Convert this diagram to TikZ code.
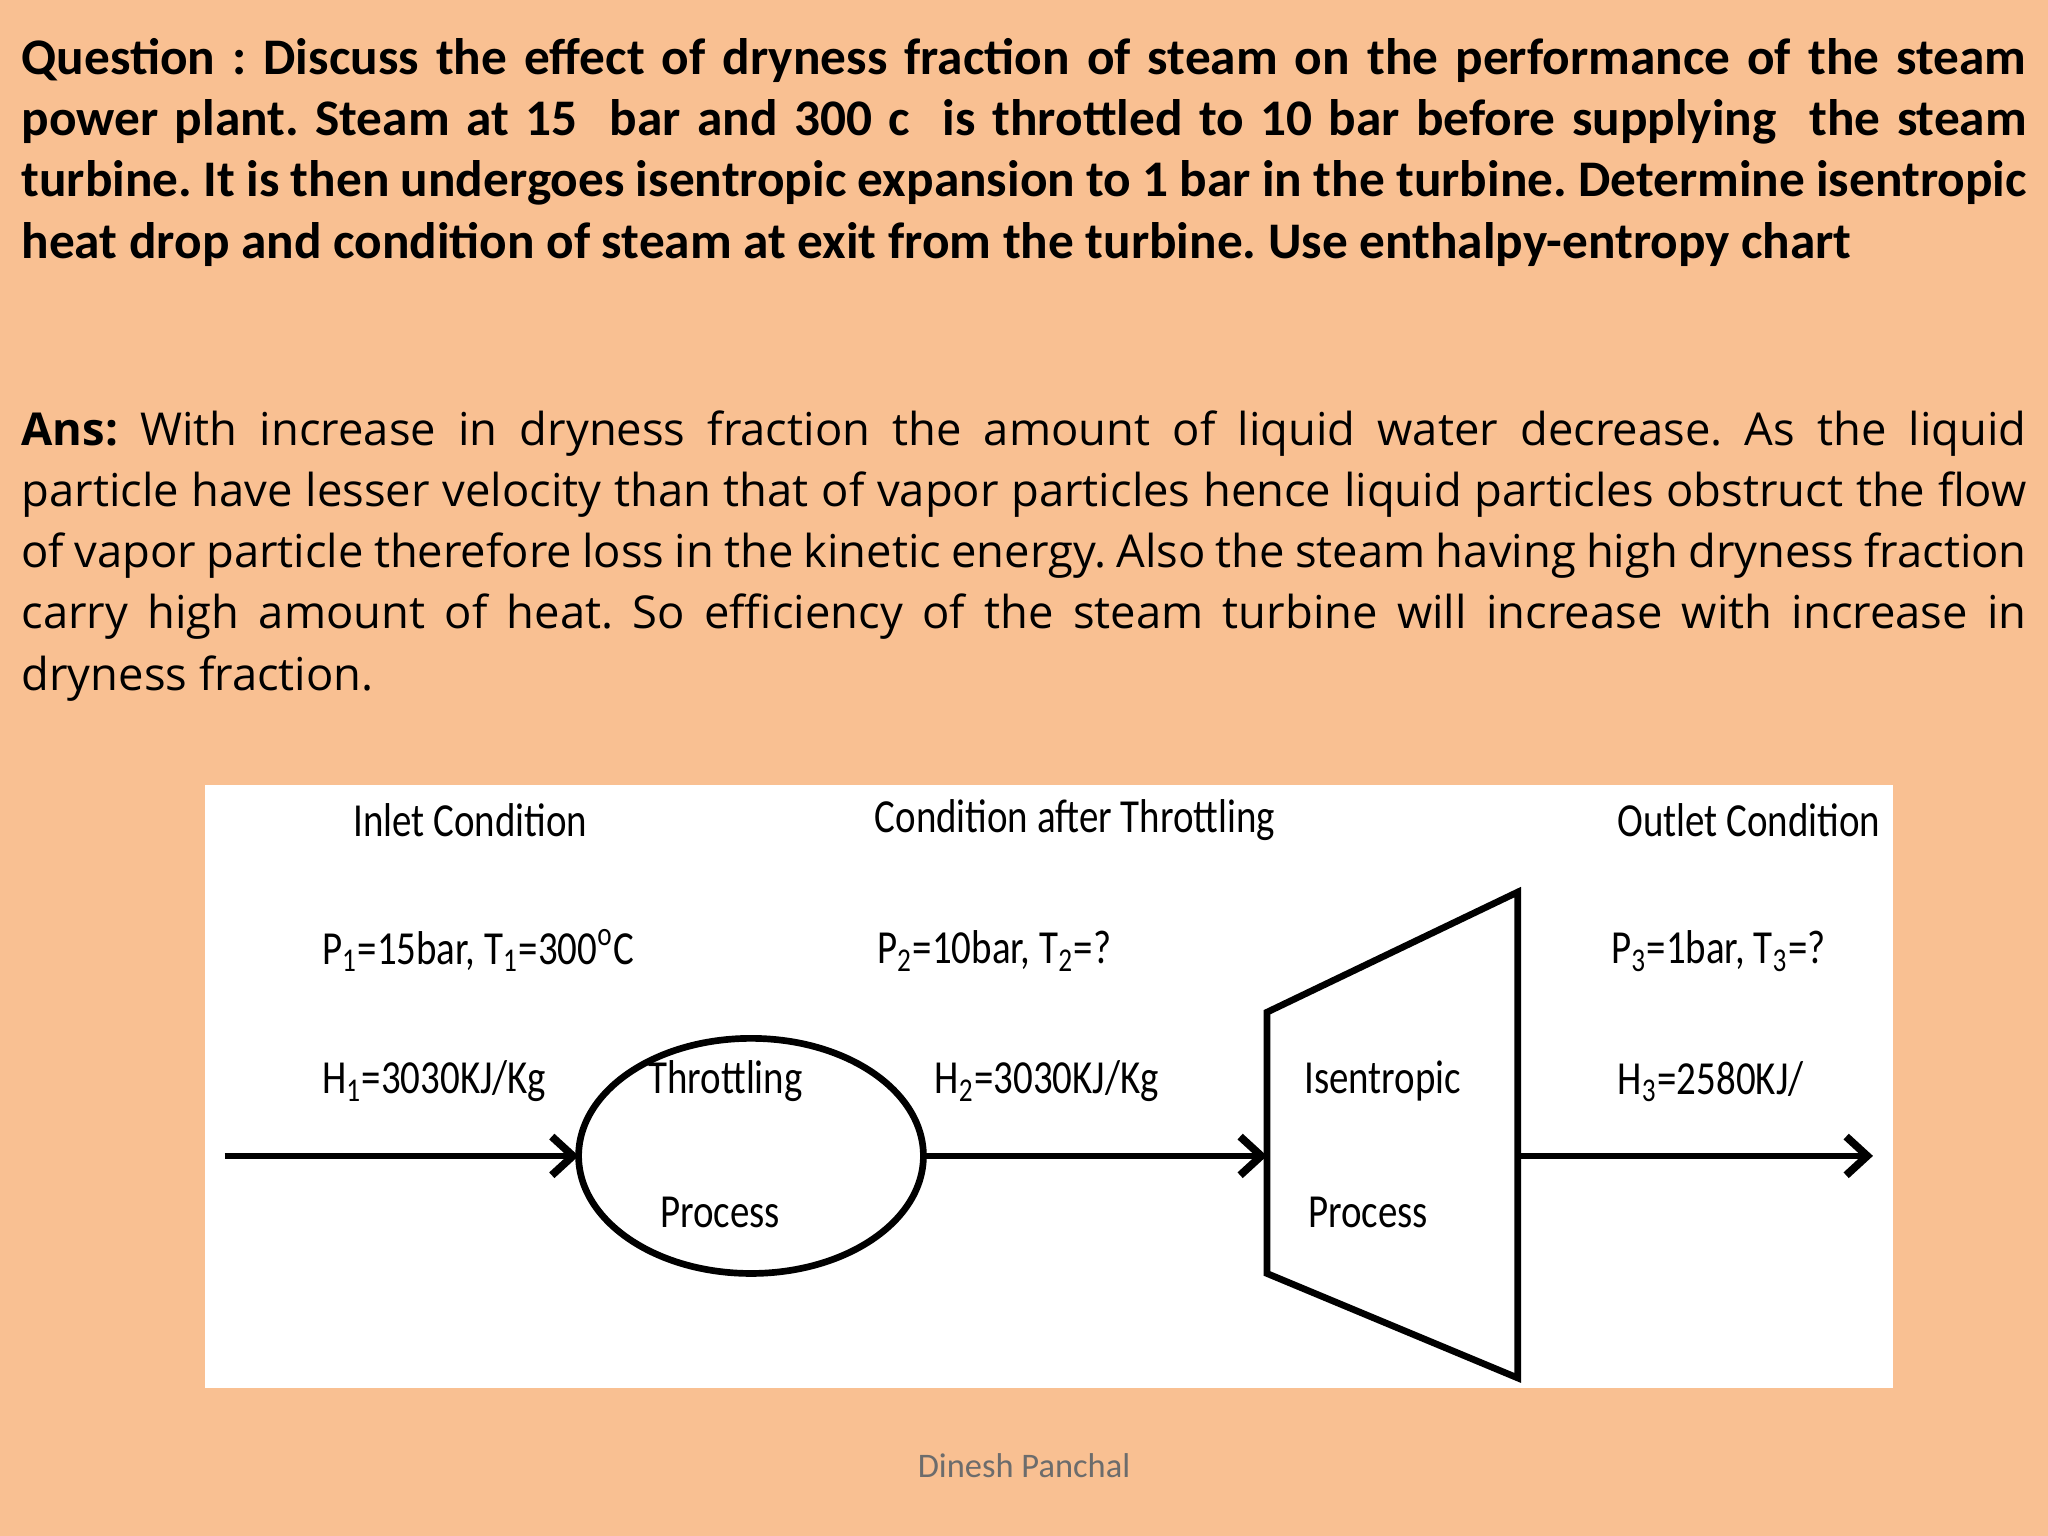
\documentclass[tikz,border=0pt]{standalone}
\usepackage{fontspec}
\usetikzlibrary{arrows.meta}
\setmainfont{Carlito}
\newfontfamily\ansf{Open Sans}
\newfontfamily\condf[FakeStretch=0.82]{Carlito}
\definecolor{bgc}{RGB}{249,192,146}
\frenchspacing
\newcommand\nohyph{\hyphenpenalty 10000 \exhyphenpenalty 10000\relax}
\begin{document}
\begin{tikzpicture}[x=0.013061cm,y=-0.013061cm,
  para/.style={anchor=north west,inner sep=0,text width=20.05cm,align=justify,font=\fontsize{14.6}{17.4}\selectfont},
  lab/.style={anchor=west,inner sep=0,font=\condf\fontsize{13.5}{16}\selectfont},
  arr/.style={line width=1.9pt,-{Straight Barb[length=6pt,width=11pt,line width=2.2pt]}},
  shp/.style={line width=1.9pt}]
\fill[bgc] (0,0) rectangle (1568,1176);
\node[para] (q) at (16,29) {\textbf{Question : Discuss the effect of dryness fraction of steam on the performance of the steam power plant. Steam at 15\ \ bar and 300 c\ \ is throttled to 10 bar before supplying\ \ the steam turbine. It is then undergoes isentropic expansion to 1 bar in the turbine. Determine isentropic heat drop and condition of steam at exit from the turbine. Use enthalpy-entropy chart}};
\node[para,font=\ansf\fontsize{12.9}{17.4}\selectfont\nohyph] (a) at (16,314) {\textbf{Ans:} With increase in dryness fraction the amount of liquid water decrease. As the liquid\linebreak particle have lesser velocity than that of vapor particles hence liquid particles obstruct the flow\linebreak of vapor particle therefore loss in the kinetic energy. Also the steam having high dryness fraction\linebreak carry high amount of heat. So efficiency of the steam turbine will increase with increase in\linebreak dryness fraction.};
\fill[white] (157,601) rectangle (1449,1063);
\draw[shp] (575,885) ellipse [x radius=132,y radius=90];
\coordinate (tl) at (970,885);
\draw[shp,line join=miter] (970,775) -- (1162,683) -- (1162,1055) -- (970,975) -- cycle;
\coordinate (in) at (172,885);
\coordinate (el) at (443,885);
\coordinate (er) at (707,885);
\coordinate (tr) at (1162,885);
\coordinate (out) at (1434,885);
\draw[arr] (in) -- (el);
\draw[arr] (er) -- (tl);
\draw[arr] (tr) -- (out);
\node[lab,anchor=center] (l1) at (360,628) {Inlet Condition};
\node[lab,anchor=center] (l2) at (823,628) {Condition after Throttling};
\node[lab,anchor=center] (l3) at (1339,628) {Outlet Condition};
\node[lab] (p1) at (246,728) {P\textsubscript{1}=15bar, T\textsubscript{1}=300\textsuperscript{o}C};
\node[lab] (p2) at (671,728) {P\textsubscript{2}=10bar, T\textsubscript{2}=?};
\node[lab] (p3) at (1233,728) {P\textsubscript{3}=1bar, T\textsubscript{3}=?};
\node[lab] (h1) at (246,828) {H\textsubscript{1}=3030KJ/Kg};
\node[lab] (t1) at (496,828) {Throttling};
\node[lab] (h2) at (715,828) {H\textsubscript{2}=3030KJ/Kg};
\node[lab] (i1) at (998,828) {Isentropic};
\node[lab] (h3) at (1238,828) {H\textsubscript{3}=2580KJ/};
\node[lab] (t2) at (505,928) {Process};
\node[lab] (i2) at (1001,928) {Process};
\node[font=\fontsize{9.8}{12}\selectfont,text=gray!85!black] (ft) at (784,1122) {Dinesh Panchal};
\end{tikzpicture}
\end{document}
